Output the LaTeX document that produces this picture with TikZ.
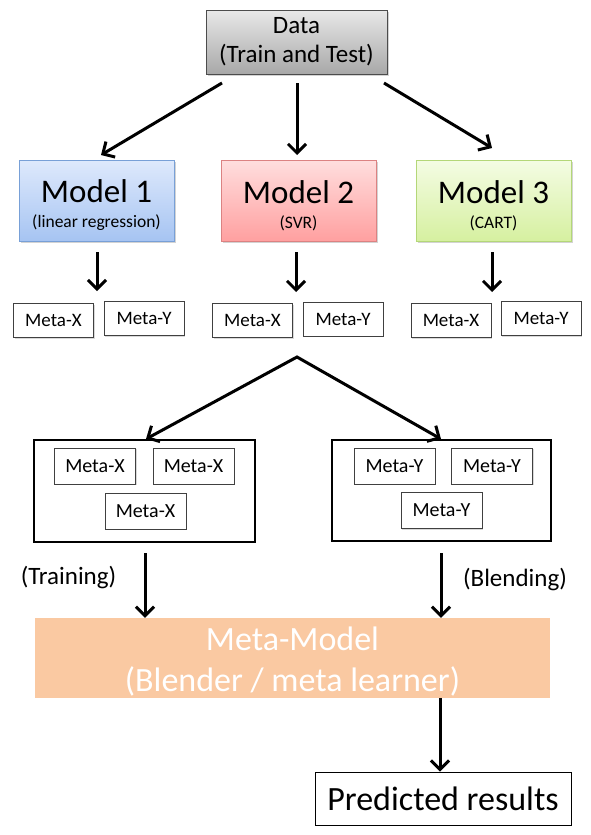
\documentclass[tikz,border=0pt]{standalone}
\usepackage{fontspec}
\setmainfont{Carlito}
\usetikzlibrary{arrows.meta,shadows}
\definecolor{bluetop}{RGB}{222,233,252}
\definecolor{bluebot}{RGB}{166,196,242}
\definecolor{blueline}{RGB}{120,160,215}
\definecolor{redtop}{RGB}{255,222,222}
\definecolor{redbot}{RGB}{255,160,160}
\definecolor{redline}{RGB}{220,130,130}
\definecolor{greentop}{RGB}{244,252,228}
\definecolor{greenbot}{RGB}{214,240,160}
\definecolor{greenline}{RGB}{180,215,120}
\definecolor{graytop}{RGB}{232,232,232}
\definecolor{graybot}{RGB}{168,168,168}
\definecolor{peach}{RGB}{250,201,162}
\begin{document}
\begin{tikzpicture}[x=1pt,y=-1pt,
  arr/.style={line width=3pt,-{Straight Barb[length=9pt,width=18pt,line width=3pt]}},
  arrboth/.style={line width=3pt,line join=miter,
     {Straight Barb[length=9pt,width=18pt,line width=3pt]}-{Straight Barb[length=9pt,width=18pt,line width=3pt]}},
  shad/.style={drop shadow={opacity=0.35,shadow xshift=1.5pt,shadow yshift=-1.5pt}},
  modelbox/.style={draw,line width=1pt,inner sep=0pt,minimum width=155pt,minimum height=81pt,align=center,shad,
     font=\fontsize{17.5}{19}\selectfont},
  metabox/.style={draw=black!75,line width=0.8pt,fill=white,inner sep=0pt,minimum width=80pt,minimum height=34pt,
     font=\fontsize{19}{22}\selectfont,drop shadow={opacity=0.3,shadow xshift=1pt,shadow yshift=-1pt}},
  innerbox/.style={draw=black!75,line width=0.8pt,fill=white,inner sep=0pt,minimum width=81pt,minimum height=36pt,
     font=\fontsize{20}{23}\selectfont,drop shadow={opacity=0.3,shadow xshift=1pt,shadow yshift=-1pt}},
  outerbox/.style={draw,line width=2.2pt,inner sep=0pt},
  lbl/.style={inner sep=0pt,font=\fontsize{25}{29}\selectfont}
]
\useasboundingbox (0,0) rectangle (590,835);

% Data
\node[draw=black!70,line width=1pt,top color=graytop,bottom color=graybot,shad,inner sep=0pt,
  minimum width=181pt,minimum height=64pt,align=center,font=\fontsize{25}{29}\selectfont]
  (data) at (296.5,42) {Data\\(Train and Test)};

% Models
\node[modelbox,draw=blueline,top color=bluetop,bottom color=bluebot] (m1) at (96.5,200.5)
  {\rule{0pt}{33pt}{\fontsize{33}{35}\selectfont Model 1}\\[6pt](linear regression)};
\node[modelbox,draw=redline,top color=redtop,bottom color=redbot] (m2) at (298.5,200.5)
  {\rule{0pt}{33pt}{\fontsize{33}{35}\selectfont Model 2}\\[6pt](SVR)};
\node[modelbox,draw=greenline,top color=greentop,bottom color=greenbot] (m3) at (493.5,200.5)
  {\rule{0pt}{33pt}{\fontsize{33}{35}\selectfont Model 3}\\[6pt](CART)};

% arrows data -> models
\coordinate (d1) at (222,83);
\coordinate (d2) at (297,83);
\coordinate (d3) at (384,83);
\coordinate (t1) at (101,155);
\coordinate (t2) at (297,155);
\coordinate (t3) at (492,148);
\draw[arr] (d1) -- (t1);
\draw[arr] (d2) -- (t2);
\draw[arr] (d3) -- (t3);

% Meta row
\node[metabox] (x1) at (53.5,320.5) {Meta-X};
\node[metabox] (y1) at (144,318.5) {Meta-Y};
\node[metabox] (x2) at (252.5,320.5) {Meta-X};
\node[metabox] (y2) at (343,319) {Meta-Y};
\node[metabox] (x3) at (451,320.5) {Meta-X};
\node[metabox] (y3) at (541,318.5) {Meta-Y};

\coordinate (a1) at (97,252);
\coordinate (a2) at (296,252);
\coordinate (a3) at (492,252);
\coordinate (b1) at (97,291);
\coordinate (b2) at (296,292);
\coordinate (b3) at (492,292);
\draw[arr] (a1) -- (b1);
\draw[arr] (a2) -- (b2);
\draw[arr] (a3) -- (b3);

% V split
\coordinate (apex) at (297,357);
\coordinate (vl) at (146,439);
\coordinate (vr) at (441,439);
\draw[arrboth] (vl) -- (apex) -- (vr);

% Outer boxes
\node[outerbox,minimum width=221pt,minimum height=102pt] (lx) at (144.5,491) {};
\node[outerbox,minimum width=219pt,minimum height=101pt] (ry) at (441.5,490.5) {};

\node[innerbox] (ix1) at (95,466) {Meta-X};
\node[innerbox] (ix2) at (193.5,466) {Meta-X};
\node[innerbox] (ix3) at (145.5,511) {Meta-X};
\node[innerbox] (iy1) at (394.5,466) {Meta-Y};
\node[innerbox] (iy2) at (492,466) {Meta-Y};
\node[innerbox] (iy3) at (441.5,510.5) {Meta-Y};

% labels
\node[lbl] (tr) at (68.5,577) {(Training)};
\node[lbl] (bl) at (515,579) {(Blending)};

% Meta-model
\node[fill=peach,inner sep=0pt,minimum width=515pt,minimum height=80pt,align=center,text=white,
  font=\fontsize{34}{41}\selectfont] (mm) at (292.5,658) {\rule{0pt}{31pt}Meta-Model\\(Blender / meta learner)};

\coordinate (c1) at (145,553);
\coordinate (c2) at (441,553);
\draw[arr] (c1) -- (c1 |- mm.north);
\draw[arr] (c2) -- (c2 |- mm.north);

% Predicted
\node[draw,line width=1pt,inner sep=0pt,minimum width=256pt,minimum height=53pt,
  font=\fontsize{34}{40}\selectfont] (pr) at (443,798.5) {Predicted results};
\coordinate (c3) at (440,698);
\draw[arr] (c3) -- (c3 |- pr.north);
\end{tikzpicture}
\end{document}
